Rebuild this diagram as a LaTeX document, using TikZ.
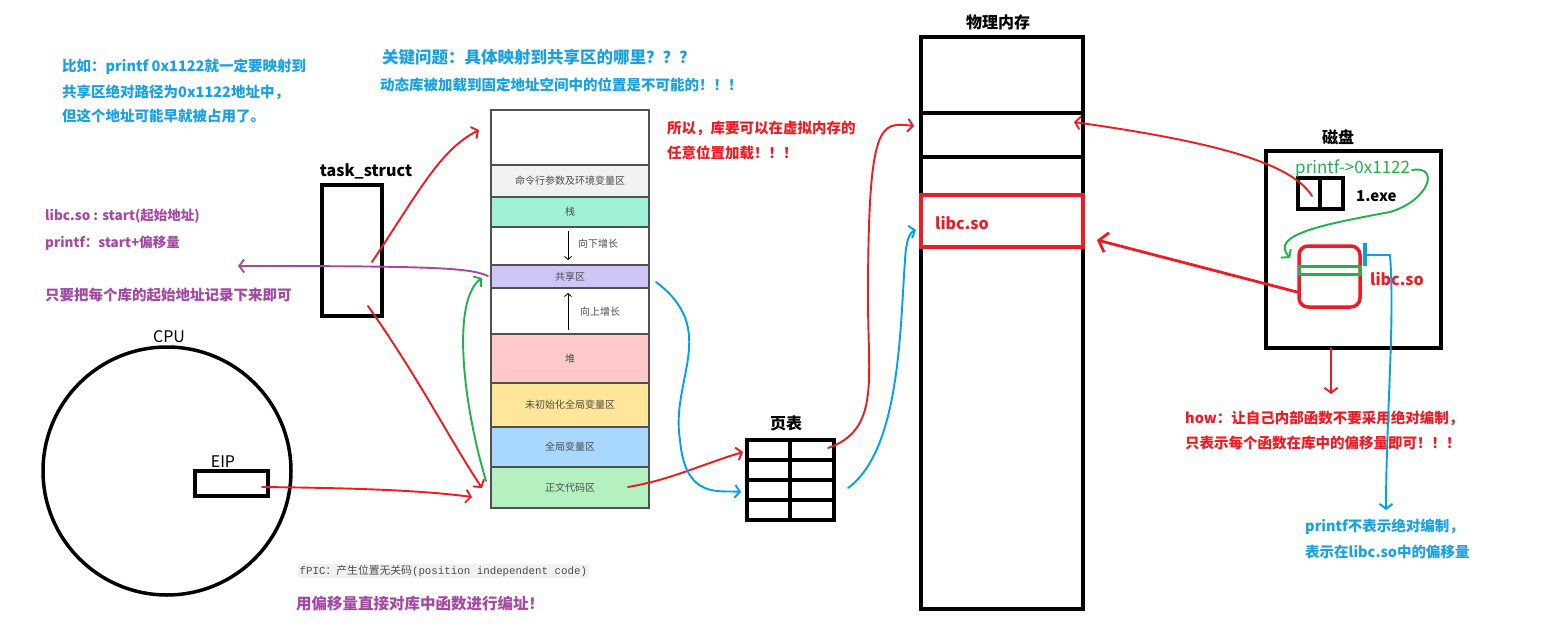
\documentclass[tikz,border=0pt]{standalone}
\usepackage{fontspec}
\setmainfont{Noto Sans CJK SC}
\newfontfamily\codefont{Liberation Mono}
\usetikzlibrary{arrows.meta}

\definecolor{penred}{HTML}{ED1C24}
\definecolor{penblue}{HTML}{00A2E8}
\definecolor{pengreen}{HTML}{22B14C}
\definecolor{penpurple}{HTML}{A349A4}
\definecolor{noteblue}{HTML}{1BA1E2}
\definecolor{segline}{HTML}{505050}
\definecolor{cmdfill}{HTML}{F1F1F1}
\definecolor{stackfill}{HTML}{9EF0D6}
\definecolor{sharefill}{HTML}{CFC5F8}
\definecolor{heapfill}{HTML}{FFC9C9}
\definecolor{bssfill}{HTML}{FFE699}
\definecolor{datafill}{HTML}{A9D8FF}
\definecolor{textfill}{HTML}{B4F0C0}

\newcommand\pxsize[1]{\fontsize{#1}{#1}\selectfont}

\tikzset{
  pen/.style={line width=1.9pt, line cap=round, line join=round,
    -{Straight Barb[length=5pt,width=13pt]}},
  redpen/.style={pen, draw=penred},
  bluepen/.style={pen, draw=penblue},
  greenpen/.style={pen, draw=pengreen},
  purplepen/.style={pen, draw=penpurple},
  seg/.style={draw=segline, line width=1.2pt, minimum width=158pt,
    inner sep=0pt, outer sep=0pt, font=\pxsize{10}, text=black!70},
  thickbox/.style={draw, line width=3.5pt, inner sep=0pt, outer sep=0pt},
  note/.style={anchor=west, inner sep=0pt, font=\bfseries\pxsize{14.5}},
  title/.style={inner sep=0pt, font=\bfseries\pxsize{16}},
}

\begin{document}
\begin{tikzpicture}[x=1pt,y=-1pt]
\useasboundingbox[fill=white] (0,0) rectangle (1547,631);

% notes on the left
\node[note, text=noteblue] (ex1) at (62,67) {比如：printf 0x1122就一定要映射到};
\node[note, text=noteblue] (ex2) at (62,92) {共享区绝对路径为0x1122地址中，};
\node[note, text=noteblue] (ex3) at (62,116) {但这个地址可能早就被占用了。};
\node[note, text=noteblue, font=\bfseries\pxsize{16.5}] (q1) at (382,57) {关键问题：具体映射到共享区的哪里？？？};
\node[note, text=noteblue, font=\bfseries\pxsize{14.5}] (q2) at (380,85) {动态库被加载到固定地址空间中的位置是不可能的！！！};
\node[note, text=penred] (so1) at (667,128) {所以，库要可以在虚拟内存的};
\node[note, text=penred] (so2) at (667,153) {任意位置加载！！！};
\node[note, text=penpurple, font=\bfseries\pxsize{13.5}] (lib1) at (45,216) {libc.so : start(起始地址)};
\node[note, text=penpurple, font=\bfseries\pxsize{13.5}] (lib2) at (45,243) {printf：start+偏移量};
\node[note, text=penpurple] (lib3) at (45,295) {只要把每个库的起始地址记录下来即可};
\node[anchor=west, inner sep=1.5pt, fill=cmdfill, text=black!70, font=\pxsize{10.8}] (fpic) at (298,571)
  {{\codefont fPIC}：产生位置无关码{\codefont (position independent code)}};
\node[note, text=penpurple, font=\bfseries\pxsize{15.5}] (addr) at (296,604) {用偏移量直接对库中函数进行编址！};

% task_struct and CPU
\node[title] (tslabel) at (366,171) {task\_struct};
\node[thickbox, minimum width=60pt, minimum height=131pt] (ts) at (352,250.5) {};
\node[font=\pxsize{16}, inner sep=0pt] (cpulabel) at (169,337) {CPU};
\node[draw, circle, line width=3.5pt, minimum size=248pt] (cpu) at (167,471) {};
\node[font=\pxsize{16}, inner sep=0pt] (eiplabel) at (223,462) {EIP};
\node[thickbox, minimum width=73pt, minimum height=25pt] (eip) at (231.5,483.5) {};

% virtual address space
\node[seg, minimum height=55pt] (top) at (570,137.5) {};
\node[seg, fill=cmdfill, minimum height=32pt] (cmd) at (570,181) {命令行参数及环境变量区};
\node[seg, fill=stackfill, minimum height=30pt] (stack) at (570,212) {栈};
\node[seg, minimum height=38pt] (down) at (570,246) {};
\node[seg, fill=sharefill, minimum height=23pt] (share) at (570,276.5) {共享区};
\node[seg, minimum height=46pt] (up) at (570,311) {};
\node[seg, fill=heapfill, minimum height=49pt] (heap) at (570,358.5) {堆};
\node[seg, fill=bssfill, minimum height=44pt] (bss) at (570,405) {未初始化全局变量区};
\node[seg, fill=datafill, minimum height=40pt] (data) at (570,447) {全局变量区};
\node[seg, fill=textfill, minimum height=41pt] (code) at (570,487.5) {正文代码区};
\coordinate (dtop) at (568,231);
\coordinate (dbot) at (568,260);
\draw[line width=0.8pt, -{Straight Barb[length=3pt,width=7pt]}] (dtop) -- (dbot);
\node[anchor=west, inner sep=0pt, font=\pxsize{10}, text=black!70] (downtxt) at (578,244) {向下增长};
\coordinate (ubot) at (568,330);
\coordinate (utop) at (568,293);
\draw[line width=0.8pt, -{Straight Barb[length=3pt,width=7pt]}] (ubot) -- (utop);
\node[anchor=west, inner sep=0pt, font=\pxsize{10}, text=black!70] (uptxt) at (580,312) {向上增长};

% page table
\node[title] (ptlabel) at (786,423) {页表};
\node[thickbox, minimum width=87pt, minimum height=80pt] (pt) at (790.5,480) {};
\draw[line width=3.5pt] (747,460) -- (834,460) (747,480) -- (834,480) (747,500) -- (834,500)
  (790,440) -- (790,520);

% physical memory
\node[title] (physlabel) at (998,22) {物理内存};
\node[thickbox, minimum width=162pt, minimum height=572pt] (phys) at (1002,323) {};
\node[thickbox, minimum width=162pt, minimum height=44pt] (slot) at (1002,135) {};
\node[thickbox, draw=penred, minimum width=162pt, minimum height=52pt] (physlib) at (1002,221) {};
\node[anchor=west, inner sep=0pt, text=penred, font=\bfseries\pxsize{16}] (physlibtxt) at (935,223) {libc.so};

% disk
\node[title] (disklabel) at (1338,137) {磁盘};
\node[thickbox, minimum width=175pt, minimum height=197pt] (disk) at (1353.5,249.5) {};
\node[thickbox, minimum width=22pt, minimum height=31pt] (exeA) at (1309,193.5) {};
\node[thickbox, minimum width=23pt, minimum height=31pt] (exeB) at (1331.5,193.5) {};
\node[anchor=west, inner sep=0pt, font=\bfseries\pxsize{15}] (exetxt) at (1356,196) {1.exe};
\node[anchor=west, inner sep=0pt, text=pengreen, font=\pxsize{17}] (ptxt) at (1295,169) {printf->0x1122};
\node[thickbox, draw=penred, rounded corners=9pt, minimum width=61pt, minimum height=61pt] (disklib) at (1329.5,276.5) {};
\node[draw=pengreen, line width=3pt, inner sep=0pt, minimum width=61pt, minimum height=8pt] (bar) at (1329.5,270.5) {};
\node[anchor=west, inner sep=0pt, text=penred, font=\bfseries\pxsize{16}] (disklibtxt) at (1370,279) {libc.so};
\coordinate (marktop) at (1365,243);
\coordinate (markbot) at (1365,266);
\draw[penblue, line width=4.5pt] (marktop) -- (markbot);

% notes on the right
\node[note, text=penred] (how1) at (1185,418) {how：让自己内部函数不要采用绝对编制，};
\node[note, text=penred] (how2) at (1185,443) {只表示每个函数在库中的偏移量即可！！！};
\node[note, text=noteblue] (off1) at (1305,527) {printf不表示绝对编制，};
\node[note, text=noteblue] (off2) at (1305,552) {表示在libc.so中的偏移量};

% connectors
\coordinate (tsA) at (372,262);
\coordinate (tsB) at (368,306);
\coordinate (topin) at (479,130);
\coordinate (codein) at (482,488);
\coordinate (codein2) at (472,497);
\coordinate (shareout) at (488,276);
\coordinate (libnote) at (238,266);
\coordinate (greenA) at (486,481);
\coordinate (greenB) at (482,278);
\coordinate (eipout) at (262,487);
\coordinate (codeout) at (628,487);
\coordinate (ptin) at (743,452);
\coordinate (shareR) at (656,282);
\coordinate (ptinB) at (741,492);
\coordinate (ptoutR) at (828,448);
\coordinate (slotin) at (914,126);
\coordinate (ptoutB) at (848,488);
\coordinate (libin) at (916,230);
\coordinate (exeout) at (1312,196);
\coordinate (slotinR) at (1074,122);
\coordinate (disklibL) at (1297,292);
\coordinate (physlibR) at (1097,240);
\coordinate (disklibB) at (1331,348);
\coordinate (howtop) at (1331,394);
\coordinate (markR) at (1390,255);
\coordinate (offtop) at (1386,510);
\coordinate (pend) at (1412,170);
\coordinate (libentry) at (1290,258);

\draw[redpen] (tsA) .. controls (420,190) and (440,150) .. (topin);
\draw[redpen] (tsB) .. controls (420,380) and (450,440) .. (codein);
\draw[purplepen] (shareout) .. controls (470,268) and (440,266) .. (libnote);
\draw[greenpen] (greenA) .. controls (462,400) and (452,300) .. (greenB);
\draw[redpen] (eipout) .. controls (350,488) and (420,490) .. (codein2);
\draw[redpen] (codeout) .. controls (670,480) and (700,465) .. (ptin);
\draw[bluepen] (shareR) .. controls (720,330) and (670,380) .. (680,440)
  .. controls (685,500) and (720,490) .. (ptinB);
\draw[redpen] (ptoutR) .. controls (880,430) and (868,380) .. (868,300)
  .. controls (868,120) and (880,122) .. (slotin);
\draw[bluepen] (ptoutB) .. controls (900,450) and (900,330) .. (905,260)
  .. controls (906,240) and (910,232) .. (libin);
\draw[redpen] (exeout) .. controls (1290,160) and (1200,140) .. (slotinR);
\draw[redpen, line width=2.8pt, -{Straight Barb[length=8pt,width=20pt]}] (disklibL) -- (physlibR);
\draw[redpen] (disklibB) -- (howtop);
\draw[bluepen] (markbot |- markR) -- (markR) .. controls (1395,320) and (1386,420) .. (offtop);
\draw[greenpen] (pend) .. controls (1440,165) and (1430,200) .. (1390,212)
  .. controls (1320,225) and (1270,235) .. (libentry);
\end{tikzpicture}
\end{document}
